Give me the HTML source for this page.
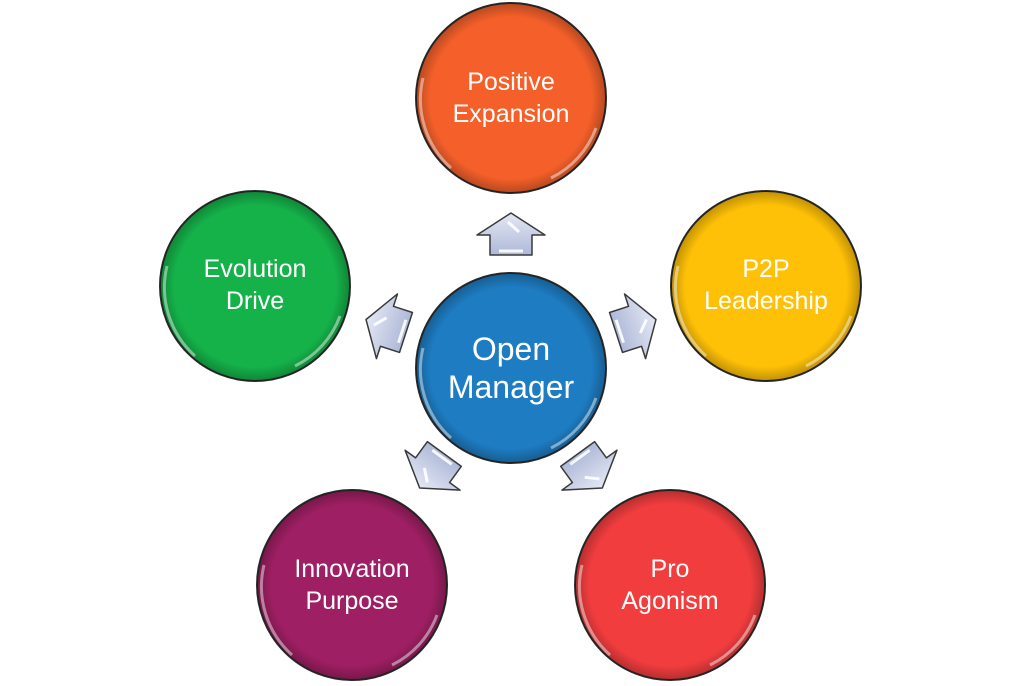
<!DOCTYPE html>
<html><head><style>
html,body{margin:0;padding:0;background:#fff;}
svg{display:block;}
text{font-family:"Liberation Sans",sans-serif;fill:#fff;text-anchor:middle;}
</style></head><body>
<svg width="1024" height="686" viewBox="0 0 1024 686" xmlns="http://www.w3.org/2000/svg">
<defs>
<radialGradient id="sh" cx="50%" cy="50%" r="50%">
<stop offset="0.85" stop-color="#000" stop-opacity="0"/>
<stop offset="1" stop-color="#000" stop-opacity="0.25"/>
</radialGradient>
<linearGradient id="ag" x1="0" y1="0" x2="0" y2="1">
<stop offset="0" stop-color="#e4e8f4"/><stop offset="1" stop-color="#aeb8d8"/>
</linearGradient>
<g id="arr">
<path d="M0,-21 L34,1 L21,1 L21,21 L-21,21 L-21,1 L-34,1 Z" fill="url(#ag)" stroke="#3a3a3a" stroke-width="1.5" stroke-linejoin="round"/>
<path d="M-12,17 L12,17" stroke="#fff" stroke-width="3" opacity="0.9"/>
<path d="M-3,-12 L8,-2" stroke="#fff" stroke-width="3" opacity="0.9"/>
</g>
<g id="circ">
<circle r="95" stroke="#2a2a2a" stroke-width="2"/>
<circle r="95" fill="url(#sh)"/>
<path d="M-60,70 A92,92 0 0 1 -88,-20" stroke="#fff" stroke-width="3" fill="none" opacity="0.45"/>
<path d="M85,30 A90,90 0 0 1 40,80" stroke="#fff" stroke-width="3" fill="none" opacity="0.45"/>
</g>
</defs>
<g transform="translate(511,98)" fill="#F5602A"><use href="#circ"/></g>
<g transform="translate(255,286)" fill="#15B24A"><use href="#circ"/></g>
<g transform="translate(766,286)" fill="#FFC107"><use href="#circ"/></g>
<g transform="translate(352,585)" fill="#9E1F63"><use href="#circ"/></g>
<g transform="translate(670,585)" fill="#F23D3F"><use href="#circ"/></g>
<g transform="translate(511,368)" fill="#1E7CC2"><use href="#circ"/></g>

<use href="#arr" transform="translate(511,234)"/>
<use href="#arr" transform="translate(386,326) rotate(-72)"/>
<use href="#arr" transform="translate(636,326) rotate(72)"/>
<use href="#arr" transform="translate(432,471) rotate(-144)"/>
<use href="#arr" transform="translate(590,471) rotate(144)"/>

<text x="511" y="90" font-size="25">Positive</text>
<text x="511" y="122" font-size="25">Expansion</text>
<text x="255" y="277" font-size="25">Evolution</text>
<text x="255" y="309" font-size="25">Drive</text>
<text x="766" y="277" font-size="25">P2P</text>
<text x="766" y="309" font-size="25">Leadership</text>
<text x="352" y="577" font-size="25">Innovation</text>
<text x="352" y="609" font-size="25">Purpose</text>
<text x="670" y="577" font-size="25">Pro</text>
<text x="670" y="609" font-size="25">Agonism</text>
<text x="511" y="360" font-size="32">Open</text>
<text x="511" y="398" font-size="32">Manager</text>
</svg>
</body></html>
